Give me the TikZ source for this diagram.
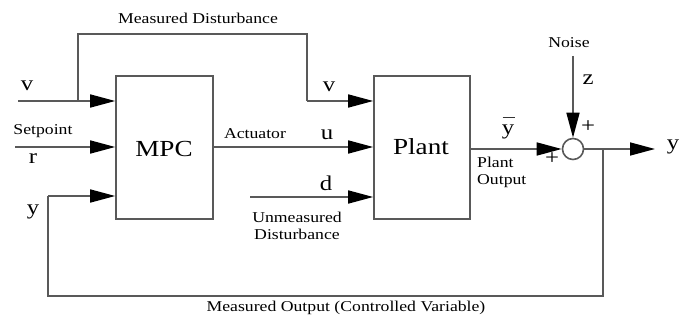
\documentclass[tikz,border=0pt]{standalone}
\usepackage{fontspec}
\setmainfont[FakeStretch=1.18]{Liberation Serif}
\usetikzlibrary{arrows.meta}
\tikzset{
  wire/.style={draw=black!65, line width=1.6pt},
  arr/.style={wire, -{Triangle[length=25pt,width=13pt,fill=black,color=black]}},
  blk/.style={draw=black!65, line width=1.6pt, rectangle, inner sep=0pt},
  small/.style={font=\fontsize{15}{17}\selectfont, inner sep=0pt},
  mid/.style={font=\fontsize{21}{24}\selectfont, inner sep=0pt},
  big/.style={font=\fontsize{23}{26}\selectfont, inner sep=0pt}
}
\begin{document}
\begin{tikzpicture}[x=1pt,y=-1pt]
\useasboundingbox (0,0) rectangle (680,320);
% blocks
\node[blk, minimum width=97pt, minimum height=143pt] (mpc) at (164.5,147.5) {};
\node[blk, minimum width=96pt, minimum height=143pt] (plant) at (422,147.5) {};
\node[draw=black!65, line width=1.6pt, circle, minimum size=21pt, inner sep=0pt] (sum) at (573,149) {};
\node[big] at (164,149) {MPC};
\node[big] at (421,147) {Plant};
% coordinates
\coordinate (vin) at (18,101);
\coordinate (vsplit) at (78,101);
\coordinate (rin) at (15,147);
\coordinate (din) at (250,197);
\coordinate (noise) at (573,56);
\coordinate (yout) at (655,149);
\coordinate (ysplit) at (603,149);
% connectors
\draw[arr] (vin) -- (vin -| mpc.west);
\draw[wire] (vsplit) |- (307,34) -- (307,101) coordinate (vp);
\draw[arr] (vp) -- (vp -| plant.west);
\draw[arr] (rin) -- (rin -| mpc.west);
\draw[arr] (mpc.east |- 0,147) -- (plant.west |- 0,147);
\draw[arr] (din) -- (din -| plant.west);
\draw[arr] (plant.east |- sum.west) -- (sum.west);
\draw[arr] (noise) -- (sum.north);
\draw[arr] (sum.east) -- (yout);
\draw[wire] (ysplit) |- (48,296) coordinate (fb) -- (48,196) coordinate (fb2);
\draw[arr] (fb2) -- (fb2 -| mpc.west);
% labels
\node[small] at (198,18) {Measured Disturbance};
\node[mid] at (27,86) {v};
\node[mid] at (329,87) {v};
\node[small] at (43,131) {Setpoint};
\node[mid] at (33,159) {r};
\node[mid] at (33,212) {y};
\node[small] at (255,134) {Actuator};
\node[mid] at (327,135) {u};
\node[mid] at (326,183) {d};
\node[small, align=center] at (297,226) {Unmeasured\\Disturbance};
\node[mid] (ybar) at (508,132) {y};
\draw[black!80, line width=1.2pt] (502.5,117.5) -- (514.5,117.5);
\node[small, anchor=west, align=left] at (477,172) {Plant\\Output};
\node[mid] at (552,159) {+};
\node[mid] at (588,127) {+};
\node[small] at (569,43) {Noise};
\node[mid] at (588,80) {z};
\node[mid] at (673,147) {y};
\node[small] at (346,308) {Measured Output (Controlled Variable)};
\end{tikzpicture}
\end{document}
